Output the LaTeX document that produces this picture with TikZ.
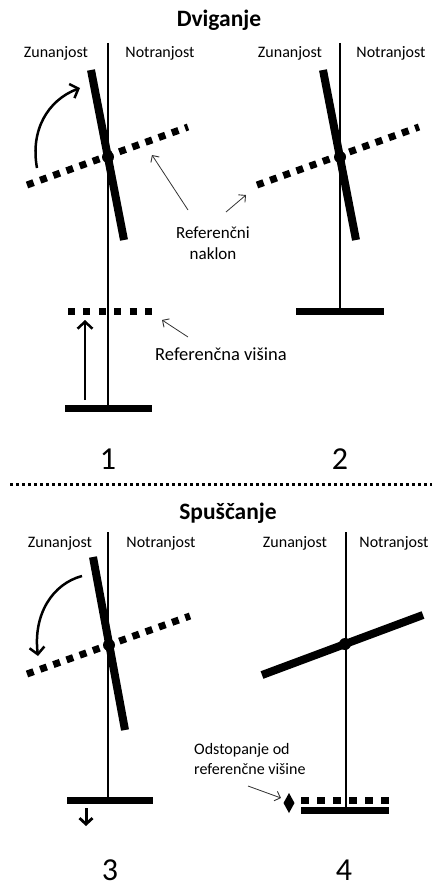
\documentclass[tikz,border=0pt]{standalone}
\usepackage{fontspec}
\setmainfont{Carlito}
\usetikzlibrary{arrows.meta}
\begin{document}
\begin{tikzpicture}[x=1pt,y=-1pt,
  pole/.style={line width=2pt},
  arm/.style={line width=8pt},
  basebar/.style={line width=7pt},
  refline/.style={line width=7pt, dash pattern=on 7pt off 7pt},
  pivot/.style={fill=black},
  pointer/.style={line width=0.8pt, draw=black!80, -{Straight Barb[length=5pt,width=10pt,line width=0.9pt]}},
  motion/.style={line width=2.5pt, -{Straight Barb[length=7pt,width=15pt,line width=2.5pt]}},
  side/.style={font=\fontsize{16}{18}\selectfont, inner sep=0pt},
  numlbl/.style={font=\fontsize{32}{34}\selectfont, inner sep=0pt},
  ttl/.style={font=\bfseries\fontsize{23.5}{26}\selectfont, inner sep=0pt},
  note/.style={font=\fontsize{17}{21}\selectfont, inner sep=0pt, align=center}
]
\useasboundingbox (0,0) rectangle (432,888);

% ---------- titles and separator ----------
\node[ttl] (t1) at (219,20) {Dviganje};
\coordinate (sepL) at (10,484);
\coordinate (sepR) at (432,484);
\draw[line width=3pt, dash pattern=on 3pt off 3pt] (sepL) -- (sepR);
\node[ttl] (t2) at (228,513) {Spuščanje};

% ---------- panel 1 ----------
\node[side] (z1) at (56,53) {Zunanjost};
\node[side] (n1) at (160,53) {Notranjost};
\coordinate (p1t) at (108,43);
\coordinate (p1b) at (108,408);
\draw[pole] (p1t) -- (p1b);
\coordinate (b1l) at (65,408); \coordinate (b1r) at (152,408);
\draw[basebar] (b1l) -- (b1r);
\coordinate (r1a) at (27,185); \coordinate (r1b) at (188,127);
\draw[refline] (r1a) -- (r1b);
\coordinate (a1a) at (91,70); \coordinate (a1b) at (124,240);
\draw[arm] (a1a) -- (a1b);
\fill[pivot] (108,157) circle (6);
\coordinate (c1s) at (37,168); \coordinate (c1e) at (80,88);
\draw[motion] (c1s) .. controls (30,130) and (48,100) .. (c1e);
\coordinate (h1l) at (68,311); \coordinate (h1r) at (152,311);
\draw[line width=7pt, dash pattern=on 7pt off 8.4pt] (h1l) -- (h1r);
\coordinate (u1s) at (85,400); \coordinate (u1e) at (85,320);
\draw[motion] (u1s) -- (u1e);
\node[note] (rn) at (213,243) {Referenčni\\naklon};
\coordinate (q1s) at (188,210); \coordinate (q1e) at (152,155);
\draw[pointer] (q1s) -- (q1e);
\node[note, font=\fontsize{18.5}{21}\selectfont] (rv) at (221,354) {Referenčna višina};
\coordinate (q3s) at (188,337); \coordinate (q3e) at (162,320);
\draw[pointer] (q3s) -- (q3e);
\node[numlbl] (n1lbl) at (108,459) {1};

% ---------- panel 2 ----------
\node[side] (z2) at (290,53) {Zunanjost};
\node[side] (n2) at (391,53) {Notranjost};
\coordinate (p2t) at (340,43);
\coordinate (p2b) at (340,311);
\draw[pole] (p2t) -- (p2b);
\coordinate (b2l) at (296,311); \coordinate (b2r) at (384,311);
\draw[basebar] (b2l) -- (b2r);
\coordinate (r2a) at (257,185); \coordinate (r2b) at (419,127);
\draw[refline] (r2a) -- (r2b);
\coordinate (a2a) at (323,70); \coordinate (a2b) at (356,240);
\draw[arm] (a2a) -- (a2b);
\fill[pivot] (340,157) circle (6);
\coordinate (q2s) at (226,212); \coordinate (q2e) at (246,195);
\draw[pointer] (q2s) -- (q2e);
\node[numlbl] (n2lbl) at (340,459) {2};

% ---------- panel 3 ----------
\node[side] (z3) at (60,543) {Zunanjost};
\node[side] (n3) at (161,543) {Notranjost};
\coordinate (p3t) at (108,532);
\coordinate (p3b) at (108,800);
\draw[pole] (p3t) -- (p3b);
\coordinate (b3l) at (67,800); \coordinate (b3r) at (153,800);
\draw[basebar] (b3l) -- (b3r);
\coordinate (r3a) at (27,674); \coordinate (r3b) at (190,616);
\draw[refline] (r3a) -- (r3b);
\coordinate (a3a) at (93,557); \coordinate (a3b) at (125,730);
\draw[arm] (a3a) -- (a3b);
\fill[pivot] (109,645) circle (6);
\coordinate (c3s) at (82,576); \coordinate (c3e) at (38,656);
\draw[motion] (c3s) .. controls (52,584) and (33,615) .. (c3e);
\coordinate (d3s) at (86,808); \coordinate (d3e) at (86,826);
\draw[line width=3pt, -{Straight Barb[length=6pt,width=13pt,line width=2.8pt]}] (d3s) -- (d3e);
\node[numlbl] (n3lbl) at (110,870) {3};

% ---------- panel 4 ----------
\node[side] (z4) at (295,543) {Zunanjost};
\node[side] (n4) at (394,543) {Notranjost};
\coordinate (p4t) at (346,532);
\coordinate (p4b) at (346,810);
\draw[pole] (p4t) -- (p4b);
\coordinate (a4a) at (262,675); \coordinate (a4b) at (423,615);
\draw[arm] (a4a) -- (a4b);
\fill[pivot] (345,644) circle (6);
\coordinate (b4l) at (301,810); \coordinate (b4r) at (389,810);
\draw[basebar] (b4l) -- (b4r);
\coordinate (h4l) at (301,800); \coordinate (h4r) at (389,800);
\draw[line width=7pt, dash pattern=on 8pt off 8pt] (h4l) -- (h4r);
\coordinate (dia) at (289,803);
\fill (289,793) -- (294.5,803) -- (289,813) -- (283.5,803) -- cycle;
\node[side, align=left, anchor=west] (odst) at (194,759) {Odstopanje od\\[2pt]referenčne višine};
\coordinate (q4s) at (248,786); \coordinate (q4e) at (281,798);
\draw[pointer] (q4s) -- (q4e);
\node[numlbl] (n4lbl) at (344,870) {4};
\end{tikzpicture}
\end{document}
